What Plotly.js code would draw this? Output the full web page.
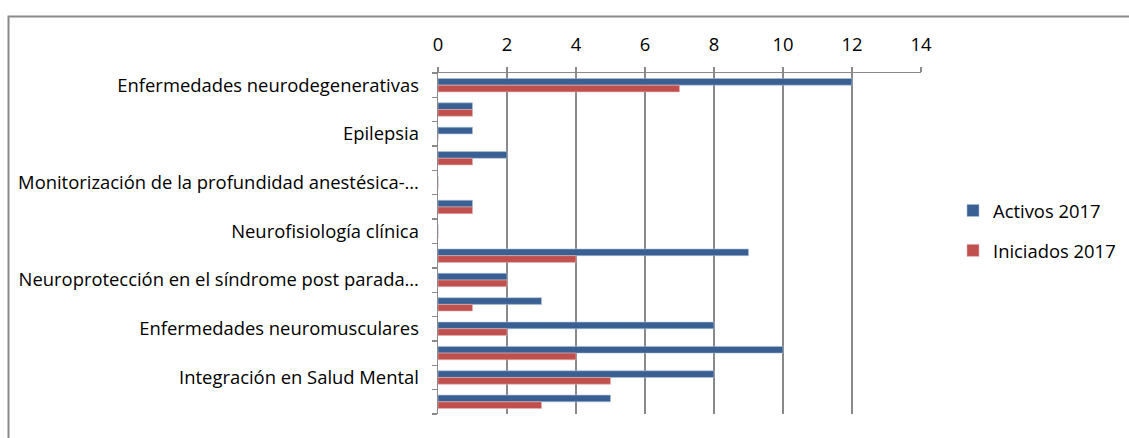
<!DOCTYPE html>
<html>
<head>
<meta charset="utf-8">
<script src="https://cdn.plot.ly/plotly-3.0.1.min.js"></script>
<style>
html,body{margin:0;padding:0;background:#fff;}
#chart{width:1129px;height:438px;}
</style>
</head>
<body>
<div id="chart"></div>
<script>
// Category labels (Excel shows every other label; hidden ones are blank here)
const categoryLabels = [
  "Enfermedades neurodegenerativas", "",
  "Epilepsia", "",
  "Monitorización de la profundidad anestésica-…", "",
  "Neurofisiología clínica", "",
  "Neuroprotección en el síndrome post parada…", "",
  "Enfermedades neuromusculares", "",
  "Integración en Salud Mental", ""
];
const activos2017   = [12, 1, 1, 2, 0, 1, 0, 9, 2, 3, 8, 10, 8, 5];
const iniciados2017 = [ 7, 1, 0, 1, 0, 1, 0, 4, 2, 1, 2,  4, 5, 3];
const xTicks = [0, 2, 4, 6, 8, 10, 12, 14];

const idx = categoryLabels.map((_, i) => i);
const labelIdx = idx.filter(i => categoryLabels[i] !== "");
const boundaries = idx.map(i => i - 0.5).concat([categoryLabels.length - 0.5]);

const FONT = "'Open Sans', 'Noto Sans', sans-serif";
const FS = 18.4;
const W = 1129, H = 438;
const M = {l: 438, r: 208, t: 73, b: 24};
const pw = W - M.l - M.r, ph = H - M.t - M.b;
const px = x => (x - M.l) / pw;
const py = y => (H - M.b - y) / ph;

const traces = [
  {
    type: "bar", orientation: "h", name: "Activos 2017",
    x: activos2017, y: idx,
    marker: {color: "#3A6093", line: {color: "#AFC1D8", width: 0.6}},
    legendgroup: "a", hoverinfo: "x+name"
  },
  {
    type: "bar", orientation: "h", name: "Iniciados 2017",
    x: iniciados2017, y: idx,
    marker: {color: "#C0504D", line: {color: "#E3B3B2", width: 0.6}},
    legendgroup: "b", hoverinfo: "x+name"
  }
];

const layout = {
  width: W, height: H,
  margin: M,
  paper_bgcolor: "#ffffff", plot_bgcolor: "#ffffff",
  font: {family: FONT, size: FS, color: "#000000"},
  barmode: "group", bargap: 0.45, bargroupgap: 0,
  showlegend: true,
  legend: {
    xref: "container", yref: "container",
    x: 953 / W, xanchor: "left", y: 1 - 192 / H, yanchor: "top",
    font: {family: FONT, size: FS, color: "#000"},
    tracegroupgap: 13, traceorder: "grouped",
    bgcolor: "rgba(0,0,0,0)"
  },
  xaxis: {
    side: "top", range: [0, 14], tickmode: "array", tickvals: xTicks,
    ticktext: xTicks.map(String), automargin: false,
    showgrid: true, gridcolor: "#898989", gridwidth: 1.6,
    zeroline: false, showline: true, linecolor: "#898989", linewidth: 1.4,
    ticks: "outside", ticklen: 5, tickcolor: "#898989", tickwidth: 1.4,
    ticklabelstandoff: 8,
    tickfont: {family: FONT, size: FS, color: "#000"}, fixedrange: true
  },
  yaxis: {
    range: [categoryLabels.length - 0.5, -0.5], automargin: false,
    tickmode: "array", tickvals: labelIdx,
    ticktext: labelIdx.map(i => categoryLabels[i]),
    ticks: "", showgrid: false, zeroline: false,
    showline: true, linecolor: "#898989", linewidth: 1.4,
    ticklabelstandoff: 14,
    tickfont: {family: FONT, size: FS, color: "#000"},
    minor: {tickmode: "array", tickvals: boundaries, ticks: "outside", ticklen: 5,
            tickcolor: "#898989", tickwidth: 1.4, showgrid: false},
    fixedrange: true
  },
  shapes: [
    {type: "rect", xref: "paper", yref: "paper",
     x0: px(8.5), x1: px(1140), y0: py(450), y1: py(16.5),
     line: {color: "#8A8A8A", width: 2}, fillcolor: "rgba(0,0,0,0)", layer: "above"}
  ]
};

Plotly.newPlot("chart", traces, layout, {displayModeBar: false, staticPlot: true});
</script>
</body>
</html>
